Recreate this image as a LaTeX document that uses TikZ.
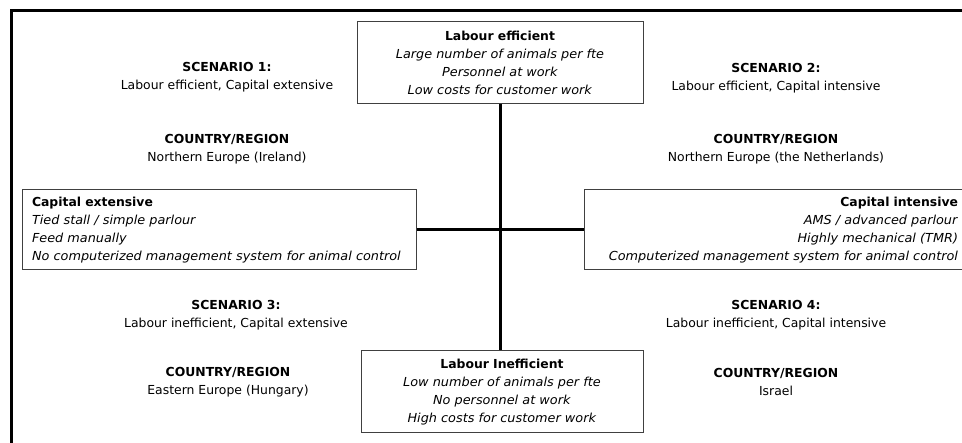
\documentclass[tikz,border=0pt]{standalone}
\usepackage{fontspec}
\setmainfont{DejaVu Sans}[ItalicFeatures={FakeStretch=1.035}]
\usepackage{tikz}
\usetikzlibrary{calc}
\usetikzlibrary{positioning}
\tikzset{inv/.style={opacity=0}}
\tikzset{box/.style={draw=black!75,line width=1pt,inner xsep=11pt,inner ysep=0pt}}

\begin{document}
\begin{tikzpicture}[x=1pt,y=-1pt,font=\fontsize{12.4}{17.8}\selectfont]
\useasboundingbox (0,0) rectangle (962,443);
\clip (0,0) rectangle (962,443);
\tikzstyle{axis} = [line width=3pt]
\tikzstyle{scen} = [align=center, inner sep=0pt]

% outer frame
\coordinate (fa) at (11, 470);
\coordinate (fb) at (11, 11);
\coordinate (fc) at (990, 11);
\draw[axis] (fa) -- (fb) -- (fc);

% the four poles
\node[box, minimum width=286, minimum height=82, align=center] (eff) at (500, 63)
  {\textbf{Labour efficient}\\ \textit{Large number of animals per fte}\\
   \textit{Personnel at work}\\ \textit{Low costs for customer work}};
\node[box, minimum height=82, text width=260, align=center] (ineff) at (502, 392)
  {\textbf{Labour Inefficient}\\ \textit{Low number of animals per fte}\\
   \textit{No personnel at work}\\ \textit{High costs for customer work}};
\node[box, minimum height=80, inner xsep=10pt, text width=374, align=left] (ext) at (219, 230)
  {\textbf{Capital extensive}\\ \textit{Tied stall / simple parlour}\\
   \textit{Feed manually}\\ \textit{No computerized management system for animal control}};
\node[box, minimum height=80, inner xsep=8pt, text width=366, align=right] (int) at (775, 230)
  {\textbf{Capital intensive}\\ \textit{AMS / advanced parlour}\\
   \textit{Highly mechanical (TMR)}\\ \textit{Computerized management system for animal control}};

% axes
\draw[axis] (eff.south) -- (eff.south |- ineff.north);
\draw[axis] (ext.east) -- (int.west);

% scenarios
\node[scen] (s1) at (227, 77) {\textbf{SCENARIO 1:}\\ Labour efficient, Capital extensive};
\node[scen] (c1) at (227, 149.5) {\textbf{COUNTRY/REGION}\\ Northern Europe (Ireland)};
\node[scen] (s2) at (776, 78.5) {\textbf{SCENARIO 2:}\\ Labour efficient, Capital intensive};
\node[scen] (c2) at (776, 149.5) {\textbf{COUNTRY/REGION}\\ Northern Europe (the Netherlands)};
\node[scen] (s3) at (236, 315.5) {\textbf{SCENARIO 3:}\\ Labour inefficient, Capital extensive};
\node[scen] (c3) at (228, 382) {\textbf{COUNTRY/REGION}\\ Eastern Europe (Hungary)};
\node[scen] (s4) at (776, 315.5) {\textbf{SCENARIO 4:}\\ Labour inefficient, Capital intensive};
\node[scen] (c4) at (776, 382) {\textbf{COUNTRY/REGION}\\ Israel};

\end{tikzpicture}
\end{document}
